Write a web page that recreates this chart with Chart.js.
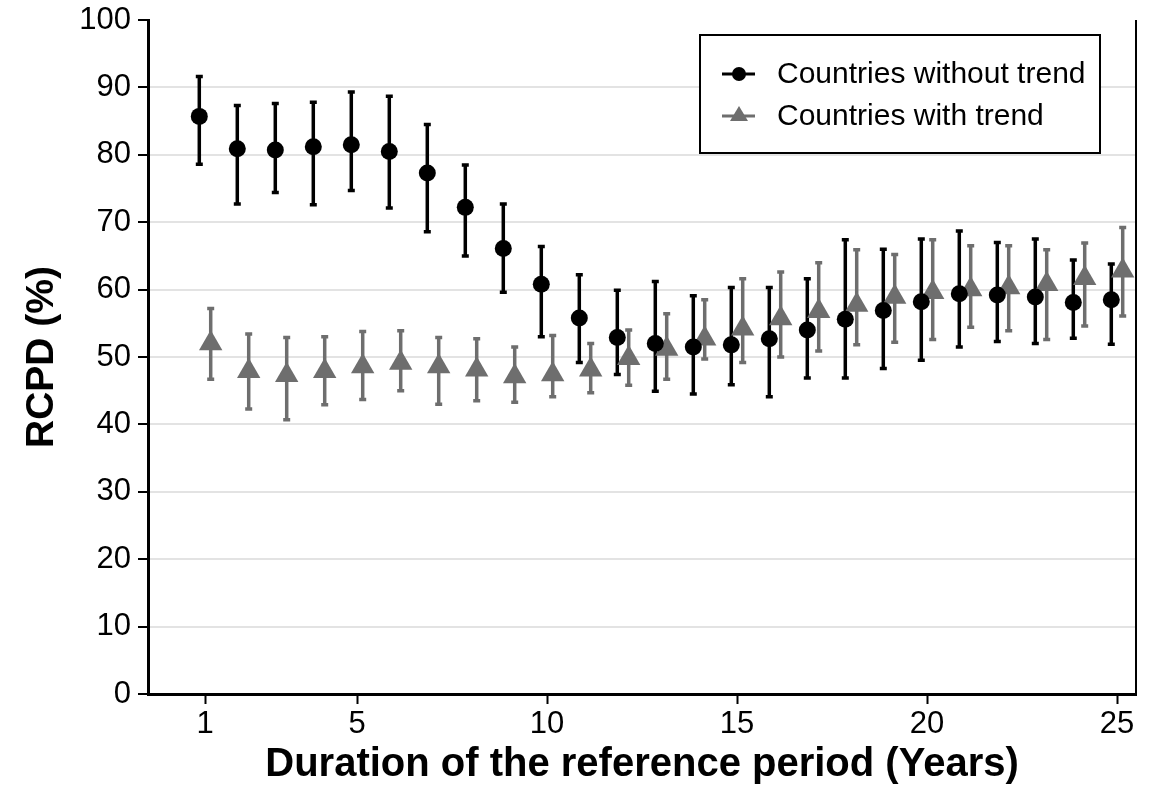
<!DOCTYPE html>
<html>
<head>
<meta charset="utf-8">
<script src="https://cdn.jsdelivr.net/npm/chart.js@4/dist/chart.umd.min.js"></script>
<style>
  html, body { margin: 0; padding: 0; background: #fff; }
  #wrap { width: 1156px; height: 793px; }
</style>
</head>
<body>
<div id="wrap"><canvas id="rcpd-chart" width="1156" height="793"></canvas></div>
<script>
// Reference period durations (years)
const durations = [1, 2, 3, 4, 5, 6, 7, 8, 9, 10, 11, 12, 13, 14, 15, 16, 17, 18, 19, 20, 21, 22, 23, 24, 25];
const xTicks = [1, 5, 10, 15, 20, 25];

// Countries without trend
const noTrendMean = [85.7, 80.9, 80.7, 81.2, 81.5, 80.5, 77.3, 72.2, 66.1, 60.8, 55.8, 52.9, 52.0, 51.5, 51.8, 52.7, 54.0, 55.6, 56.9, 58.2, 59.4, 59.2, 58.9, 58.1, 58.5];
const noTrendLow  = [78.6, 72.7, 74.4, 72.6, 74.7, 72.1, 68.6, 65.0, 59.6, 53.0, 49.2, 47.4, 44.9, 44.5, 45.9, 44.1, 46.9, 46.9, 48.3, 49.5, 51.5, 52.3, 52.0, 52.8, 51.9];
const noTrendHigh = [91.6, 87.3, 87.6, 87.8, 89.3, 88.7, 84.5, 78.5, 72.7, 66.4, 62.2, 59.9, 61.2, 59.1, 60.3, 60.3, 61.6, 67.4, 66.0, 67.5, 68.7, 67.0, 67.5, 64.4, 63.8];

// Countries with trend
const trendMean = [52.0, 47.9, 47.3, 47.9, 48.6, 49.1, 48.6, 48.1, 47.1, 47.4, 48.1, 49.8, 51.2, 52.7, 54.2, 55.7, 56.8, 57.7, 58.9, 59.6, 60.0, 60.3, 60.8, 61.7, 62.8];
const trendLow  = [46.7, 42.3, 40.7, 42.9, 43.7, 45.0, 43.0, 43.5, 43.3, 44.1, 44.7, 45.8, 46.7, 49.7, 49.2, 50.0, 50.9, 51.8, 52.2, 52.6, 54.4, 53.9, 52.6, 54.6, 56.1];
const trendHigh = [57.2, 53.4, 52.9, 53.0, 53.8, 53.9, 52.9, 52.7, 51.5, 53.2, 52.0, 54.0, 56.4, 58.5, 61.6, 62.6, 64.0, 65.9, 65.2, 67.4, 66.5, 66.5, 65.9, 66.9, 69.2];

const DODGE = 0.15;
const GREY = '#6e6e6e';
const FONT = '"Liberation Sans", Arial, Helvetica, sans-serif';

const toPoints = (means, shift) => durations.map((d, i) => ({ x: d + shift, y: means[i] }));

// error bars drawn under the markers
const errorBars = {
  id: 'errorBars',
  beforeDatasetsDraw(chart) {
    const { ctx, scales: { y } } = chart;
    chart.data.datasets.forEach((ds, di) => {
      const meta = chart.getDatasetMeta(di);
      ctx.save();
      ctx.strokeStyle = ds.barColor;
      ctx.lineWidth = 3.5;
      meta.data.forEach((pt, i) => {
        const yl = y.getPixelForValue(ds.low[i]);
        const yh = y.getPixelForValue(ds.high[i]);
        ctx.beginPath();
        ctx.moveTo(pt.x, yl);
        ctx.lineTo(pt.x, yh);
        ctx.moveTo(pt.x - 3.5, yl);
        ctx.lineTo(pt.x + 3.5, yl);
        ctx.moveTo(pt.x - 3.5, yh);
        ctx.lineTo(pt.x + 3.5, yh);
        ctx.stroke();
      });
      ctx.restore();
    });
  }
};

// right border + boxed legend
const frameAndLegend = {
  id: 'frameAndLegend',
  afterDraw(chart) {
    const { ctx, chartArea: a } = chart;
    ctx.save();
    ctx.strokeStyle = '#000';
    ctx.lineWidth = 2;
    ctx.beginPath();
    ctx.moveTo(a.right, a.top);
    ctx.lineTo(a.right, a.bottom);
    ctx.stroke();

    const bx = a.right - 436, by = 35, bw = 400, bh = 118;
    ctx.fillStyle = '#fff';
    ctx.fillRect(bx, by, bw, bh);
    ctx.strokeRect(bx, by, bw, bh);

    const rows = [
      { label: 'Countries without trend', color: '#000', style: 'circle', r: 7, yy: by + 39 },
      { label: 'Countries with trend', color: GREY, style: 'triangle', r: 10, yy: by + 81 }
    ];
    rows.forEach(row => {
      ctx.strokeStyle = row.color;
      ctx.lineWidth = 3;
      ctx.beginPath();
      ctx.moveTo(bx + 22, row.yy);
      ctx.lineTo(bx + 55, row.yy);
      ctx.stroke();
      ctx.fillStyle = row.color;
      ctx.beginPath();
      if (row.style === 'circle') {
        ctx.arc(bx + 39, row.yy, row.r, 0, Math.PI * 2);
      } else {
        ctx.moveTo(bx + 39, row.yy - row.r);
        ctx.lineTo(bx + 39 + row.r * 0.9, row.yy + row.r / 2);
        ctx.lineTo(bx + 39 - row.r * 0.9, row.yy + row.r / 2);
        ctx.closePath();
      }
      ctx.fill();
      ctx.fillStyle = '#000';
      ctx.font = '30px ' + FONT;
      ctx.textBaseline = 'middle';
      ctx.textAlign = 'left';
      ctx.fillText(row.label, bx + 77, row.yy + 1);
    });
    ctx.restore();
  }
};

const ctx = document.getElementById('rcpd-chart').getContext('2d');
const rcpdChart = new Chart(ctx, {
  type: 'scatter',
  data: {
    datasets: [{
      label: 'Countries without trend',
      data: toPoints(noTrendMean, -DODGE),
      low: noTrendLow,
      high: noTrendHigh,
      barColor: '#000',
      pointStyle: 'circle',
      pointRadius: 8.5,
      pointBackgroundColor: '#000',
      pointBorderWidth: 0,
      showLine: false
    }, {
      label: 'Countries with trend',
      data: toPoints(trendMean, DODGE),
      low: trendLow,
      high: trendHigh,
      barColor: GREY,
      pointStyle: 'triangle',
      pointRadius: 13.5,
      pointBackgroundColor: GREY,
      pointBorderWidth: 0,
      showLine: false
    }]
  },
  options: {
    responsive: false,
    animation: false,
    layout: { padding: { top: 20, right: 20, left: 0, bottom: 0 } },
    plugins: { legend: { display: false }, tooltip: { enabled: false } },
    scales: {
      x: {
        type: 'linear',
        min: -0.5,
        max: 25.5,
        afterBuildTicks: axis => { axis.ticks = xTicks.map(v => ({ value: v })); },
        afterFit: axis => { axis.height = 99; axis.paddingLeft = 0; axis.paddingRight = 0; },
        border: { color: '#000', width: 3 },
        grid: { drawOnChartArea: false, tickLength: 10, tickColor: '#000', tickWidth: 2 },
        ticks: { color: '#000', padding: 2, font: { family: FONT, size: 31 }, maxRotation: 0, autoSkip: false },
        title: {
          display: true,
          text: 'Duration of the reference period (Years)',
          color: '#000',
          font: { family: FONT, size: 40, weight: 'bold' },
          padding: { top: 0, bottom: 4 }
        }
      },
      y: {
        min: 0,
        max: 100,
        afterFit: axis => { axis.width = 148; axis.paddingTop = 0; axis.paddingBottom = 0; },
        border: { color: '#000', width: 3 },
        grid: {
          color: c => (c.tick.value === 100 ? 'rgba(0,0,0,0)' : '#e3e3e3'),
          lineWidth: 2,
          tickLength: 10,
          tickColor: '#000',
          tickWidth: 2
        },
        ticks: { stepSize: 10, color: '#000', padding: 7, font: { family: FONT, size: 31 } },
        title: {
          display: true,
          text: 'RCPD (%)',
          color: '#000',
          font: { family: FONT, size: 39, weight: 'bold' },
          padding: { top: 19, bottom: 0 }
        }
      }
    }
  },
  plugins: [errorBars, frameAndLegend]
});
</script>
</body>
</html>
